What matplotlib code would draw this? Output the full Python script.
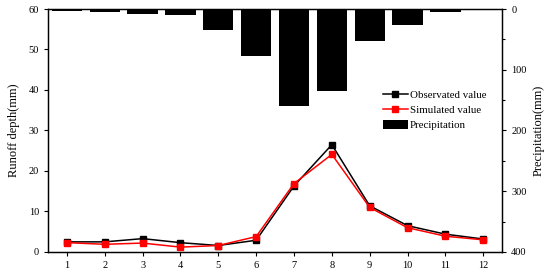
import numpy as np
import matplotlib
matplotlib.use("Agg")
import matplotlib.pyplot as plt
from matplotlib.ticker import MultipleLocator

plt.rcParams['font.family'] = ['Liberation Serif', 'DejaVu Serif']

months = np.arange(1, 13)
observed = [2.5, 2.5, 3.3, 2.3, 1.6, 2.9, 16.3, 26.5, 11.4, 6.5, 4.4, 3.2]
simulated = [2.3, 1.9, 2.2, 1.2, 1.6, 3.8, 16.9, 24.1, 11.0, 6.0, 3.9, 3.0]
precip = [3, 5, 9, 10, 35, 77, 159, 135, 52, 26, 5, 2]

fig = plt.figure(figsize=(5.5, 2.77), dpi=100)
ax = fig.add_axes([0.0873, 0.0903, 0.8257, 0.8772])
ax2 = ax.twinx()

l1, = ax.plot(months, observed, color='black', marker='s', markersize=4, lw=1.1,
              label='Observated value')
l2, = ax.plot(months, simulated, color='red', marker='s', markersize=4, lw=1.1,
              label='Simulated value')
b = ax2.bar(months, precip, width=0.8, color='black', label='Precipitation')

ax.set_xlim(0.5, 12.5)
ax.set_ylim(0, 60)
ax.set_xticks(months)
ax.yaxis.set_major_locator(MultipleLocator(10))
ax2.set_ylim(400, 0)
ax2.yaxis.set_major_locator(MultipleLocator(100))
ax2.yaxis.set_minor_locator(MultipleLocator(50))

for a in (ax, ax2):
    a.tick_params(direction='out', labelsize=7.5, length=3, width=0.8)
    a.tick_params(which='minor', direction='out', length=2, width=0.8)
    for s in a.spines.values():
        s.set_linewidth(0.9)

ax.set_ylabel('Runoff depth(mm)', fontsize=9, labelpad=6)
ax2.set_ylabel('Precipitation(mm)', fontsize=9, rotation=90, labelpad=4)

fig.legend(handles=[l1, l2, b], loc='upper left', bbox_to_anchor=(0.696, 0.676),
           frameon=False, fontsize=7.8, handlelength=2.3, handleheight=0.9,
           handletextpad=0.2, labelspacing=0.45, borderaxespad=0, borderpad=0)

fig.savefig('out.png', dpi=100)
